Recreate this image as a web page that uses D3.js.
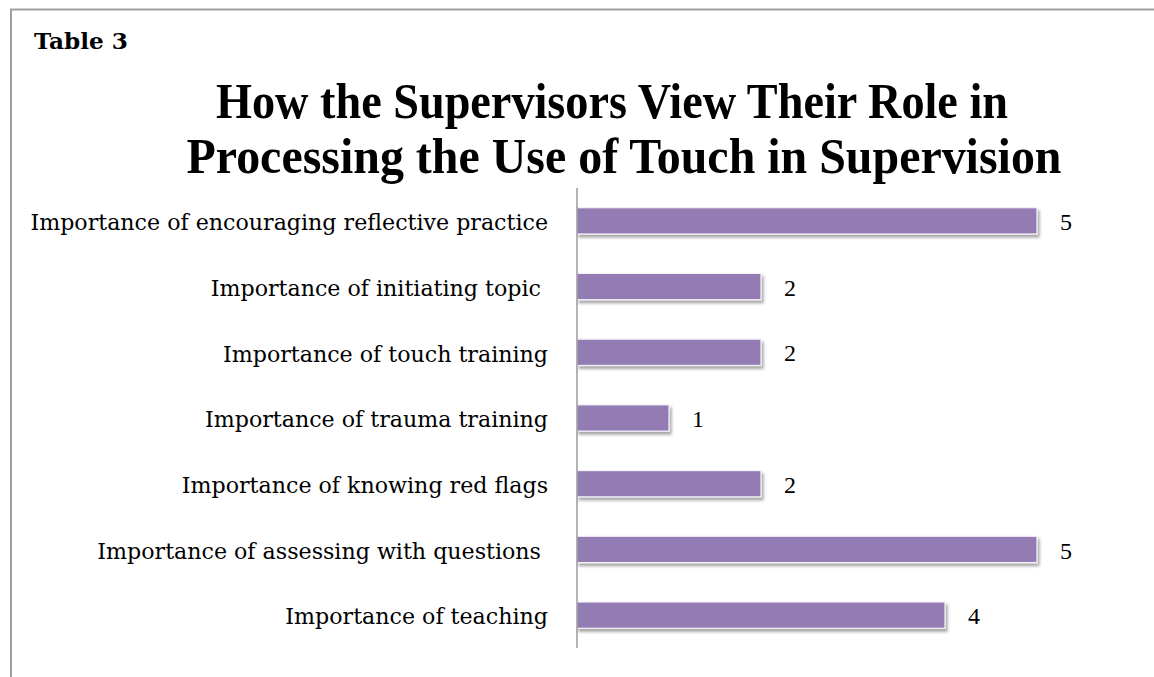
<!DOCTYPE html>
<html><head><meta charset="utf-8">
<script src="https://cdn.jsdelivr.net/npm/d3@7"></script>
<style>html,body{margin:0;padding:0;background:#fff;overflow:hidden}</style>
</head><body>
<svg id="chart" width="1154" height="677"></svg>
<script>
const categories = [
  "Importance of encouraging reflective practice",
  "Importance of initiating topic ",
  "Importance of touch training",
  "Importance of trauma training",
  "Importance of knowing red flags",
  "Importance of assessing with questions ",
  "Importance of teaching"
];
const values = [5, 2, 2, 1, 2, 5, 4];
const titleLines = ["How the Supervisors View Their Role in", "Processing the Use of Touch in Supervision"];
const tableLabel = "Table 3";

const svg = d3.select("#chart");
const W = 1154, H = 677;

// frame
svg.append("rect").attr("x", 11).attr("y", 9.5).attr("width", W + 20).attr("height", H + 20)
  .attr("fill", "none").attr("stroke", "#a0a0a0").attr("stroke-width", 2);

// shadow filter
const defs = svg.append("defs");
const f = defs.append("filter").attr("id", "sh").attr("x", "-5%").attr("y", "-30%").attr("width", "115%").attr("height", "190%");
f.append("feGaussianBlur").attr("in", "SourceAlpha").attr("stdDeviation", 1.6).attr("result", "b");
f.append("feOffset").attr("in", "b").attr("dx", 2).attr("dy", 3).attr("result", "o");
f.append("feComponentTransfer").attr("in", "o").attr("result", "o2")
  .append("feFuncA").attr("type", "linear").attr("slope", 0.35);
const m = f.append("feMerge");
m.append("feMergeNode").attr("in", "o2");
m.append("feMergeNode").attr("in", "SourceGraphic");

svg.append("text").attr("x", 34).attr("y", 49).text(tableLabel)
  .attr("font-family", "'DejaVu Serif', serif").attr("font-weight", "bold").attr("font-size", 22.5).attr("fill", "#000")
  .attr("textLength", 94).attr("lengthAdjust", "spacingAndGlyphs");

const titleWidths = [792, 875];
const titleCenters = [612, 624];
svg.selectAll("text.title").data(titleLines).join("text").attr("class", "title")
  .attr("x", (d, i) => titleCenters[i]).attr("y", (d, i) => 118 + i * 55)
  .attr("text-anchor", "middle")
  .attr("font-family", "'Liberation Serif', 'Times New Roman', serif")
  .attr("font-weight", "bold").attr("font-size", 51).attr("fill", "#000")
  .attr("textLength", (d, i) => titleWidths[i]).attr("lengthAdjust", "spacingAndGlyphs")
  .text(d => d);

const x0 = 577;
const x = d3.scaleLinear().domain([0, 5]).range([x0, 1037]);
const y = d3.scaleBand().domain(categories).range([188, 648]).paddingInner(0.6).paddingOuter(0.3);

svg.append("g").selectAll("rect").data(categories).join("rect")
  .attr("x", x0).attr("y", d => y(d))
  .attr("width", (d, i) => x(values[i]) - x0).attr("height", y.bandwidth())
  .attr("fill", "#937cb3").attr("stroke", "#f4f0f8").attr("stroke-width", 1.2)
  .attr("filter", "url(#sh)");

const yAxis = d3.axisLeft(y).tickSize(0).tickPadding(29);
const ga = svg.append("g").attr("transform", `translate(${x0},0)`).call(yAxis);
ga.select(".domain").attr("stroke", "#8c8c8c").attr("stroke-width", 1.3).attr("d", "M0,188V648");
const labels = ga.selectAll("text").attr("font-family", "'DejaVu Serif', serif").attr("font-size", 22).attr("fill", "#000")
  .attr("dy", "0.42em")
  .attr("xml:space", "preserve").style("white-space", "pre");
// fit font size so the longest label spans the same width as in the reference
const longest = d3.max(labels.nodes(), n => n.getComputedTextLength());
const fs = 22 * 518 / longest;
labels.attr("font-size", fs);

svg.append("g").selectAll("text").data(categories).join("text")
  .attr("x", (d, i) => x(values[i]) + 23).attr("y", d => y(d) + y.bandwidth() / 2)
  .attr("dy", "0.38em").attr("font-family", "'Liberation Serif', serif").attr("font-size", 24).attr("fill", "#000")
  .text((d, i) => values[i]);
</script>
</body></html>
